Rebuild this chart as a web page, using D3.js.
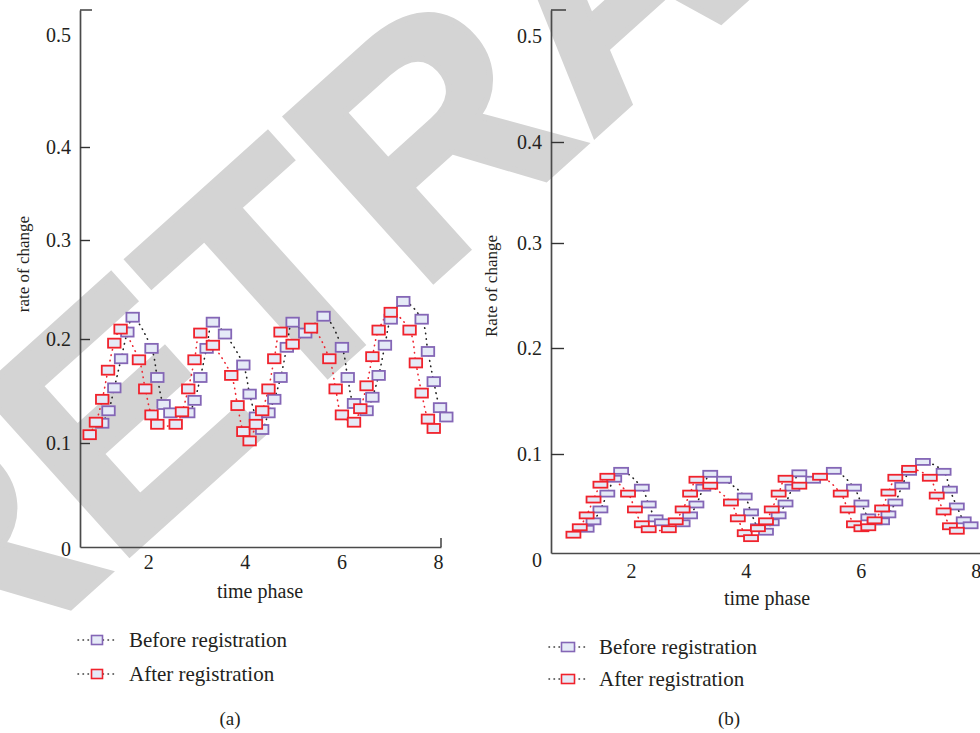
<!DOCTYPE html>
<html>
<head>
<meta charset="utf-8">
<script src="https://cdn.jsdelivr.net/npm/d3@7"></script>
<style>
  body { margin: 0; background: #fff; }
  svg text { font-family: "Liberation Serif", "DejaVu Serif", serif; fill: #231f20; }
</style>
</head>
<body>
<svg id="chart" width="980" height="733"></svg>
<script>
// ---- data ----
const seriesNames = ['Before registration', 'After registration'];
const xTicks = [2, 4, 6, 8];
const yTicks = [0, 0.1, 0.2, 0.3, 0.4, 0.5];

// panel (a)
const beforeA_x = [1.05, 1.18, 1.30, 1.44, 1.57, 1.68, 2.07, 2.19, 2.32, 2.46, 2.83, 2.96, 3.08, 3.21, 3.34, 3.59, 3.97, 4.10, 4.23, 4.36, 4.49, 4.61, 4.74, 4.87, 4.99, 5.25, 5.63, 6.01, 6.13, 6.26, 6.52, 6.64, 6.77, 6.90, 7.02, 7.28, 7.66, 7.79, 7.91, 8.04, 8.17];
const beforeA_y = [0.119, 0.131, 0.153, 0.181, 0.207, 0.222, 0.191, 0.163, 0.137, 0.129, 0.129, 0.141, 0.163, 0.191, 0.217, 0.205, 0.175, 0.147, 0.125, 0.113, 0.129, 0.142, 0.163, 0.192, 0.217, 0.206, 0.223, 0.192, 0.163, 0.138, 0.131, 0.144, 0.165, 0.194, 0.220, 0.238, 0.220, 0.188, 0.159, 0.134, 0.125];
const afterA_x = [0.79, 0.92, 1.05, 1.17, 1.30, 1.43, 1.81, 1.94, 2.07, 2.19, 2.57, 2.70, 2.83, 2.96, 3.08, 3.34, 3.72, 3.85, 3.97, 4.10, 4.23, 4.36, 4.49, 4.61, 4.74, 4.99, 5.37, 5.75, 5.88, 6.01, 6.26, 6.39, 6.52, 6.64, 6.77, 7.02, 7.41, 7.54, 7.66, 7.79, 7.91];
const afterA_y = [0.108, 0.120, 0.142, 0.170, 0.196, 0.210, 0.180, 0.152, 0.127, 0.118, 0.118, 0.130, 0.152, 0.180, 0.206, 0.194, 0.165, 0.136, 0.111, 0.102, 0.118, 0.131, 0.152, 0.181, 0.207, 0.195, 0.211, 0.181, 0.152, 0.127, 0.120, 0.133, 0.155, 0.183, 0.209, 0.227, 0.209, 0.177, 0.148, 0.123, 0.114];

// panel (b)
const beforeB_x = [1.23, 1.35, 1.47, 1.59, 1.71, 1.83, 2.19, 2.31, 2.43, 2.54, 2.90, 3.03, 3.14, 3.26, 3.38, 3.62, 3.98, 4.09, 4.21, 4.35, 4.45, 4.57, 4.69, 4.81, 4.93, 5.17, 5.53, 5.88, 6.01, 6.13, 6.24, 6.37, 6.48, 6.60, 6.72, 6.84, 7.08, 7.44, 7.55, 7.67, 7.79, 7.91];
const beforeB_y = [0.0245, 0.032, 0.044, 0.060, 0.075, 0.083, 0.066, 0.049, 0.035, 0.031, 0.030, 0.038, 0.049, 0.066, 0.080, 0.074, 0.057, 0.041, 0.026, 0.0215, 0.031, 0.038, 0.050, 0.066, 0.0805, 0.074, 0.083, 0.066, 0.050, 0.036, 0.032, 0.032, 0.039, 0.051, 0.068, 0.082, 0.092, 0.082, 0.064, 0.047, 0.033, 0.028];
const afterB_x = [1.00, 1.11, 1.23, 1.35, 1.47, 1.59, 1.95, 2.07, 2.19, 2.31, 2.66, 2.78, 2.90, 3.03, 3.14, 3.38, 3.74, 3.86, 3.98, 4.09, 4.21, 4.35, 4.45, 4.57, 4.69, 4.93, 5.29, 5.65, 5.77, 5.88, 6.01, 6.13, 6.24, 6.37, 6.48, 6.60, 6.84, 7.20, 7.32, 7.44, 7.55, 7.67];
const afterB_y = [0.0185, 0.026, 0.038, 0.054, 0.069, 0.077, 0.060, 0.044, 0.029, 0.024, 0.024, 0.032, 0.044, 0.060, 0.074, 0.068, 0.051, 0.035, 0.020, 0.015, 0.025, 0.032, 0.044, 0.060, 0.075, 0.068, 0.077, 0.060, 0.044, 0.029, 0.025, 0.026, 0.033, 0.045, 0.061, 0.076, 0.085, 0.076, 0.058, 0.042, 0.027, 0.0225];

const colors = ['#8466b6', '#f0222c'];
const lineColors = ['#222', '#ee2530'];
const markerFill = '#e5eaf7';

function zip(xs, ys) {
  return xs.map(function (x, i) { return { x: x, y: ys[i] }; });
}

// layout of the two panels (scales follow the uneven tick spacing of the figure)
const panels = [
  {
    series: [zip(beforeA_x, beforeA_y), zip(afterA_x, afterA_y)],
    xDomain: [0.59, 8.06], xRange: [80, 441],
    yDomain: [0, 0.2, 0.3, 0.4, 0.5, 0.522], yRange: [547, 339, 240, 147, 35, 10],
    yTitle: 'rate of change', yTitlePos: [29, 264], yTitleSize: 17,
    xTitlePos: [260, 598], xPad: 8, zeroShift: 2, tickLen: 10, topTick: 12,
    endTick: true, mw: 12.5, mh: 9,
    legend: { x: 78, y: [640, 674], text: 129, bw: 11 },
    caption: '(a)', captionPos: [230, 719]
  },
  {
    series: [zip(beforeB_x, beforeB_y), zip(afterB_x, afterB_y)],
    xDomain: [0.61, 8.16], xRange: [551, 985],
    yDomain: [0, 0.1, 0.2, 0.3, 0.4, 0.5, 0.525], yRange: [553, 454, 348, 243, 142, 36, 10],
    yTitle: 'Rate of change', yTitlePos: [497, 286], yTitleSize: 17,
    xTitlePos: [767, 605], xPad: 11, zeroShift: 7, tickLen: 13, topTick: 15,
    endTick: false, mw: 14, mh: 6,
    legend: { x: 549, y: [647, 679], text: 599, bw: 13 },
    caption: '(b)', captionPos: [729, 719]
  }
];

const svg = d3.select('#chart');

// RETRACTED watermark behind everything
svg.append('text')
  .attr('transform', 'translate(-58,723) rotate(-42)')
  .style('font-family', '"Liberation Sans", Arial, sans-serif')
  .style('font-weight', 'bold')
  .style('font-size', '320px')
  .style('fill', '#d4d4d4')
  .style('stroke', '#d4d4d4')
  .style('stroke-width', 6)
  .text('RETRACTED');

panels.forEach(function (p) {
  const x = d3.scaleLinear().domain(p.xDomain).range(p.xRange);
  const y = d3.scaleLinear().domain(p.yDomain).range(p.yRange);
  const g = svg.append('g');

  // y axis, ticks point inward
  const yAxis = d3.axisLeft(y)
    .tickValues(yTicks)
    .tickSize(-p.tickLen)
    .tickSizeOuter(0)
    .tickPadding(9)
    .tickFormat(function (d) { return d === 0 ? '0' : d.toFixed(1); });
  const gy = g.append('g')
    .attr('transform', 'translate(' + p.xRange[0] + ',0)')
    .call(yAxis);
  gy.selectAll('.tick').filter(function (d) { return d === 0 || d === 0.5; })
    .select('line').remove();
  gy.selectAll('.tick').filter(function (d) { return d === 0; })
    .select('text').attr('y', p.zeroShift);
  gy.append('line')
    .attr('x1', 0).attr('x2', p.topTick)
    .attr('y1', y(p.yDomain[p.yDomain.length - 1])).attr('y2', y(p.yDomain[p.yDomain.length - 1]))
    .attr('stroke', '#333').attr('stroke-width', 1.4);

  // x axis, labels only
  const xAxis = d3.axisBottom(x)
    .tickValues(xTicks)
    .tickSize(0)
    .tickSizeOuter(0)
    .tickPadding(p.xPad)
    .tickFormat(d3.format('d'));
  const gx = g.append('g')
    .attr('transform', 'translate(0,' + p.yRange[0] + ')')
    .call(xAxis);
  if (p.endTick) {
    gx.append('line')
      .attr('x1', p.xRange[1]).attr('x2', p.xRange[1])
      .attr('y1', 0).attr('y2', -9)
      .attr('stroke', '#333').attr('stroke-width', 1.4);
  }

  g.selectAll('.domain').attr('stroke', '#4a4a4a').attr('stroke-width', 1.7);
  g.selectAll('.tick line').attr('stroke', '#333').attr('stroke-width', 1.4);
  g.selectAll('.tick text').style('font-size', '20px');

  // axis titles
  g.append('text')
    .attr('x', p.xTitlePos[0]).attr('y', p.xTitlePos[1])
    .attr('text-anchor', 'middle')
    .style('font-size', '20px')
    .text('time phase');
  g.append('text')
    .attr('transform', 'translate(' + p.yTitlePos[0] + ',' + p.yTitlePos[1] + ') rotate(-90)')
    .attr('text-anchor', 'middle')
    .style('font-size', p.yTitleSize + 'px')
    .text(p.yTitle);

  // dotted connecting curves
  const line = d3.line()
    .x(function (d) { return x(d.x); })
    .y(function (d) { return y(d.y); })
    .curve(d3.curveCatmullRom.alpha(0.5));

  p.series.forEach(function (s, i) {
    g.append('path')
      .datum(s)
      .attr('d', line)
      .attr('fill', 'none')
      .attr('stroke', lineColors[i])
      .attr('stroke-width', 1.6)
      .attr('stroke-linecap', 'round')
      .attr('stroke-dasharray', '0.5 5');
  });

  // box markers
  p.series.forEach(function (s, i) {
    g.append('g').selectAll('rect')
      .data(s)
      .enter().append('rect')
      .attr('x', function (d) { return x(d.x) - p.mw / 2; })
      .attr('y', function (d) { return y(d.y) - p.mh / 2; })
      .attr('width', p.mw)
      .attr('height', p.mh)
      .attr('fill', markerFill)
      .attr('stroke', colors[i])
      .attr('stroke-width', 1.8);
  });

  // legend
  const lg = g.append('g');
  seriesNames.forEach(function (name, i) {
    const ly = p.legend.y[i];
    lg.append('line')
      .attr('x1', p.legend.x).attr('x2', p.legend.x + 38)
      .attr('y1', ly).attr('y2', ly)
      .attr('stroke', '#333').attr('stroke-width', 1.5)
      .attr('stroke-linecap', 'round')
      .attr('stroke-dasharray', '0.5 4.5');
    lg.append('rect')
      .attr('x', p.legend.x + 19 - p.legend.bw / 2).attr('y', ly - 4.5)
      .attr('width', p.legend.bw).attr('height', 9)
      .attr('fill', markerFill)
      .attr('stroke', colors[i]).attr('stroke-width', 1.6);
    lg.append('text')
      .attr('x', p.legend.text).attr('y', ly)
      .attr('dy', '0.33em')
      .style('font-size', '21px')
      .text(name);
  });

  g.append('text')
    .attr('x', p.captionPos[0]).attr('y', p.captionPos[1])
    .attr('dy', '0.33em')
    .attr('text-anchor', 'middle')
    .style('font-size', '19px')
    .text(p.caption);
});
</script>
</body>
</html>
